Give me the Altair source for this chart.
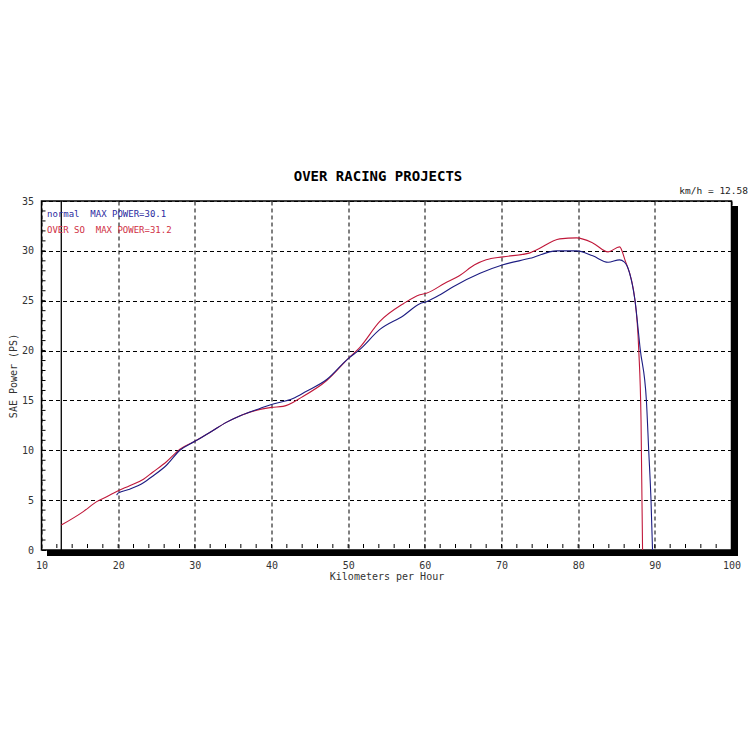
import altair as alt
import pandas as pd

# ---- data ----
normal_x = [19.8, 20.0, 21.5, 23.3, 24.5, 26.3, 28.05, 30.0, 32.0, 34.1, 36.0, 38.5, 40.0,
            42.8, 44.5, 47.2, 50.0, 51.5, 54.1, 57.2, 59.35, 60.2, 62.0, 63.7, 67.2, 70.2,
            73.7, 77.2, 79.8, 81.9, 83.9, 85.4, 86.0, 86.7, 87.4, 88.1, 88.9, 89.2, 89.5, 89.7]
normal_y = [5.5, 5.7, 6.1, 6.75, 7.4, 8.5, 10.0, 10.9, 11.8, 12.8, 13.5, 14.2, 14.6,
            15.2, 15.9, 17.1, 19.2, 20.1, 22.1, 23.5, 24.7, 24.9, 25.6, 26.4, 27.75, 28.6,
            29.25, 30.0, 30.0, 29.5, 28.85, 29.1, 28.9, 27.8, 25.1, 20.1, 15.0, 10.0, 5.0, 0.0]

over_x = [12.58, 15.45, 17.2, 18.5, 20.0, 21.5, 23.3, 24.5, 26.3, 28.05, 30.0, 32.0, 34.1,
          36.0, 38.5, 40.0, 41.5, 44.1, 47.2, 50.0, 51.5, 54.1, 57.2, 59.35, 60.2, 62.6,
          64.5, 66.5, 68.0, 70.2, 73.7, 74.6, 77.6, 79.8, 81.9, 83.9, 85.4, 86.1, 87.4, 87.9,
          88.2, 88.4]
over_y = [2.5, 3.85, 4.85, 5.35, 5.95, 6.45, 7.1, 7.8, 8.85, 10.1, 10.9, 11.8, 12.8,
          13.5, 14.1, 14.3, 14.4, 15.4, 17.0, 19.2, 20.3, 22.9, 24.7, 25.6, 25.75, 26.75,
          27.5, 28.6, 29.1, 29.4, 29.8, 30.1, 31.2, 31.3, 30.8, 29.9, 30.4, 29.1, 25.1, 20.1,
          13.0, 0.0]

x_ticks = [10, 20, 30, 40, 50, 60, 70, 80, 90, 100]
y_ticks = [0, 5, 10, 15, 20, 25, 30, 35]
x_minor = list(range(12, 100, 2))
y_minor = list(range(1, 35))
speed_marker = [12.58]

title_text = "OVER RACING PROJECTS"
legend_lines = ["normal\u00a0\u00a0MAX POWER=30.1", "OVER SO\u00a0\u00a0MAX POWER=31.2"]
speed_text = "km/h = 12.58"

BLUE = "#1c1c82"
RED = "#c0183a"
FONT = "DejaVu Sans Mono"

W, H = 690, 349

xs = alt.Scale(domain=[10, 100], nice=False, zero=False)
ys = alt.Scale(domain=[0, 35], nice=False, zero=False)

df_n = pd.DataFrame({"x": normal_x, "y": normal_y})
df_o = pd.DataFrame({"x": over_x, "y": over_y})
one = pd.DataFrame({"a": [0]})

base_axes = alt.Chart(df_n).mark_point(opacity=0).encode(
    x=alt.X("x:Q", scale=xs, title="Kilometers per Hour",
            axis=alt.Axis(values=x_ticks, grid=True, gridDash=[4, 3], gridColor="black",
                          gridOpacity=1, gridWidth=1, domain=False, ticks=False,
                          labelFont=FONT, labelFontSize=10, labelColor="#333",
                          labelFlush=False, labelOverlap=False,
                          labelPadding=10, titleFont=FONT, titleFontSize=10,
                          titleFontWeight="normal", titleColor="#333", titlePadding=1,
                          format="d")),
    y=alt.Y("y:Q", scale=ys, title="SAE Power (PS)",
            axis=alt.Axis(values=y_ticks, grid=True, gridDash=[4, 3], gridColor="black",
                          gridOpacity=1, gridWidth=1, domain=False, ticks=False,
                          labelFont=FONT, labelFontSize=10, labelColor="#333",
                          labelFlush=False, labelOverlap=False,
                          labelPadding=8, titleFont=FONT, titleFontSize=10,
                          titleFontWeight="normal", titleColor="#333", titlePadding=3,
                          format="d")),
)

xminor = alt.Chart(pd.DataFrame({"x": x_minor})).mark_rule(color="black", strokeWidth=1).encode(
    x=alt.X("x:Q", scale=xs), y=alt.value(H - 6), y2=alt.value(H - 2))
yminor = alt.Chart(pd.DataFrame({"y": y_minor})).mark_rule(color="black", strokeWidth=1).encode(
    y=alt.Y("y:Q", scale=ys), x=alt.value(0), x2=alt.value(4))

marker = alt.Chart(pd.DataFrame({"x": speed_marker})).mark_rule(color="black", strokeWidth=1.3).encode(
    x=alt.X("x:Q", scale=xs), y=alt.value(0), y2=alt.value(H))

line_o = alt.Chart(df_o).mark_line(color=RED, strokeWidth=1.1, interpolate="monotone").encode(
    x=alt.X("x:Q", scale=xs), y=alt.Y("y:Q", scale=ys), order="x:Q")
line_n = alt.Chart(df_n).mark_line(color=BLUE, strokeWidth=1.1, interpolate="monotone").encode(
    x=alt.X("x:Q", scale=xs), y=alt.Y("y:Q", scale=ys), order="x:Q")

shadow_b = alt.Chart(one).mark_rect(color="black").encode(
    x=alt.value(5.5), x2=alt.value(W + 6.5), y=alt.value(H), y2=alt.value(H + 6))
shadow_r = alt.Chart(one).mark_rect(color="black").encode(
    x=alt.value(W), x2=alt.value(W + 6.5), y=alt.value(5), y2=alt.value(H + 6))

leg1 = alt.Chart(pd.DataFrame({"t": [legend_lines[0]]})).mark_text(
    align="left", baseline="middle", font=FONT, fontSize=9, color="#2a2aa0").encode(
    x=alt.value(5.5), y=alt.value(13), text="t:N")
leg2 = alt.Chart(pd.DataFrame({"t": [legend_lines[1]]})).mark_text(
    align="left", baseline="middle", font=FONT, fontSize=9, color="#d03045").encode(
    x=alt.value(5.5), y=alt.value(29), text="t:N")
spd = alt.Chart(pd.DataFrame({"t": [speed_text]})).mark_text(
    align="right", baseline="middle", font=FONT, fontSize=9.5, color="#222").encode(
    x=alt.value(706.5), y=alt.value(-10), text="t:N")
ttl = alt.Chart(pd.DataFrame({"t": [title_text]})).mark_text(
    align="center", baseline="middle", font=FONT, fontSize=14, fontWeight="bold", color="black").encode(
    x=alt.value(336.5), y=alt.value(-24), text="t:N")

chart = alt.layer(base_axes, xminor, yminor, marker, line_o, line_n, shadow_b, shadow_r,
                  leg1, leg2, spd, ttl).properties(
    width=W, height=H,
    autosize=alt.AutoSizeParams(type="none"),
    padding={"left": 33.5, "top": 193, "right": 16, "bottom": 190},
    background="white",
).configure_view(stroke="black", strokeWidth=1.5)

chart.save("out.html", embed_options={"renderer": "svg", "actions": False})
